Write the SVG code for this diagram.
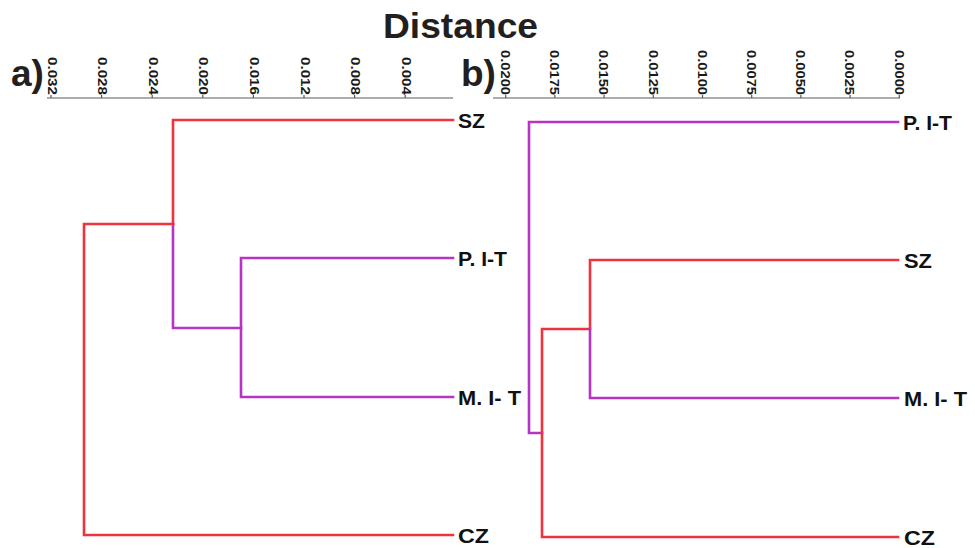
<svg xmlns="http://www.w3.org/2000/svg" width="975" height="548" viewBox="0 0 975 548">
<style>
.bg{fill:#ffffff}
.red{fill:none;stroke:#f0323e;stroke-width:2.6;stroke-linejoin:miter;stroke-linecap:square}
.pur{fill:none;stroke:#b634c2;stroke-width:2.6;stroke-linejoin:miter;stroke-linecap:square}
.axis{fill:none;stroke:#5a5a5a;stroke-width:1.2}
.tick{font-family:"Liberation Sans",Arial,sans-serif;font-weight:bold;font-size:13.5px;fill:#1a1a1a}
.leaf{font-family:"Liberation Sans",Arial,sans-serif;font-weight:bold;font-size:19.5px;fill:#111111}
.panel{font-family:"Liberation Sans",Arial,sans-serif;font-weight:bold;font-size:37px;fill:#231f20}
.title{font-family:"Liberation Sans",Arial,sans-serif;font-weight:bold;font-size:35px;fill:#231f20}
</style>
<rect class="bg" x="0" y="0" width="975" height="548"/>
<text class="title" x="383" y="38" textLength="155" lengthAdjust="spacingAndGlyphs">Distance</text>
<text class="panel" x="11" y="86">a)</text>
<text class="panel" x="461" y="86">b)</text>

<g id="axis-a">
<path class="axis" d="M47,98 H453 M51,95 V98 M101.6,95 V98 M152.2,95 V98 M202.8,95 V98 M253.4,95 V98 M304,95 V98 M354.6,95 V98 M405.2,95 V98"/>
<text class="tick" text-anchor="end" textLength="38" lengthAdjust="spacingAndGlyphs" transform="translate(47.5,95) rotate(90)">0.032</text>
<text class="tick" text-anchor="end" textLength="38" lengthAdjust="spacingAndGlyphs" transform="translate(98.1,95) rotate(90)">0.028</text>
<text class="tick" text-anchor="end" textLength="38" lengthAdjust="spacingAndGlyphs" transform="translate(148.7,95) rotate(90)">0.024</text>
<text class="tick" text-anchor="end" textLength="38" lengthAdjust="spacingAndGlyphs" transform="translate(199.3,95) rotate(90)">0.020</text>
<text class="tick" text-anchor="end" textLength="38" lengthAdjust="spacingAndGlyphs" transform="translate(249.9,95) rotate(90)">0.016</text>
<text class="tick" text-anchor="end" textLength="38" lengthAdjust="spacingAndGlyphs" transform="translate(300.5,95) rotate(90)">0.012</text>
<text class="tick" text-anchor="end" textLength="38" lengthAdjust="spacingAndGlyphs" transform="translate(351.1,95) rotate(90)">0.008</text>
<text class="tick" text-anchor="end" textLength="38" lengthAdjust="spacingAndGlyphs" transform="translate(401.7,95) rotate(90)">0.004</text>
</g>

<g id="axis-b">
<path class="axis" d="M493,98 H900 M505.7,95 V98 M554.9,95 V98 M604.1,95 V98 M653.3,95 V98 M702.5,95 V98 M751.7,95 V98 M800.9,95 V98 M850.1,95 V98 M899.3,95 V98"/>
<text class="tick" text-anchor="end" textLength="45" lengthAdjust="spacingAndGlyphs" transform="translate(501,95) rotate(90)">0.0200</text>
<text class="tick" text-anchor="end" textLength="45" lengthAdjust="spacingAndGlyphs" transform="translate(550.2,95) rotate(90)">0.0175</text>
<text class="tick" text-anchor="end" textLength="45" lengthAdjust="spacingAndGlyphs" transform="translate(599.4,95) rotate(90)">0.0150</text>
<text class="tick" text-anchor="end" textLength="45" lengthAdjust="spacingAndGlyphs" transform="translate(648.6,95) rotate(90)">0.0125</text>
<text class="tick" text-anchor="end" textLength="45" lengthAdjust="spacingAndGlyphs" transform="translate(697.8,95) rotate(90)">0.0100</text>
<text class="tick" text-anchor="end" textLength="45" lengthAdjust="spacingAndGlyphs" transform="translate(747,95) rotate(90)">0.0075</text>
<text class="tick" text-anchor="end" textLength="45" lengthAdjust="spacingAndGlyphs" transform="translate(796.2,95) rotate(90)">0.0050</text>
<text class="tick" text-anchor="end" textLength="45" lengthAdjust="spacingAndGlyphs" transform="translate(845.4,95) rotate(90)">0.0025</text>
<text class="tick" text-anchor="end" textLength="45" lengthAdjust="spacingAndGlyphs" transform="translate(894.6,95) rotate(90)">0.0000</text>
</g>

<g id="connectors">
<path class="red" d="M453,120 H173 V224"/>
<path class="pur" d="M173,224 V328 H241"/>
<path class="pur" d="M453,258 H241 V397 H453"/>
<path class="red" d="M173,224 H84 V535 H453"/>
<path class="pur" d="M898,122 H529 V433 H542"/>
<path class="red" d="M898,537 H542 V329 H590 V260 H898"/>
<path class="pur" d="M590,329 V398 H898"/>
</g>

<g id="a-SZ"><text class="leaf" x="458" y="128" textLength="27" lengthAdjust="spacingAndGlyphs">SZ</text></g>
<g id="a-PIT"><text class="leaf" x="458" y="266" textLength="49" lengthAdjust="spacingAndGlyphs">P. I-T</text></g>
<g id="a-MIT"><text class="leaf" x="458" y="405" textLength="63" lengthAdjust="spacingAndGlyphs">M. I- T</text></g>
<g id="a-CZ"><text class="leaf" x="458" y="543" textLength="31" lengthAdjust="spacingAndGlyphs">CZ</text></g>

<g id="b-PIT"><text class="leaf" x="903" y="130" textLength="49" lengthAdjust="spacingAndGlyphs">P. I-T</text></g>
<g id="b-SZ"><text class="leaf" x="904" y="268" textLength="28" lengthAdjust="spacingAndGlyphs">SZ</text></g>
<g id="b-MIT"><text class="leaf" x="904" y="406" textLength="63" lengthAdjust="spacingAndGlyphs">M. I- T</text></g>
<g id="b-CZ"><text class="leaf" x="904" y="545" textLength="31" lengthAdjust="spacingAndGlyphs">CZ</text></g>
</svg>
